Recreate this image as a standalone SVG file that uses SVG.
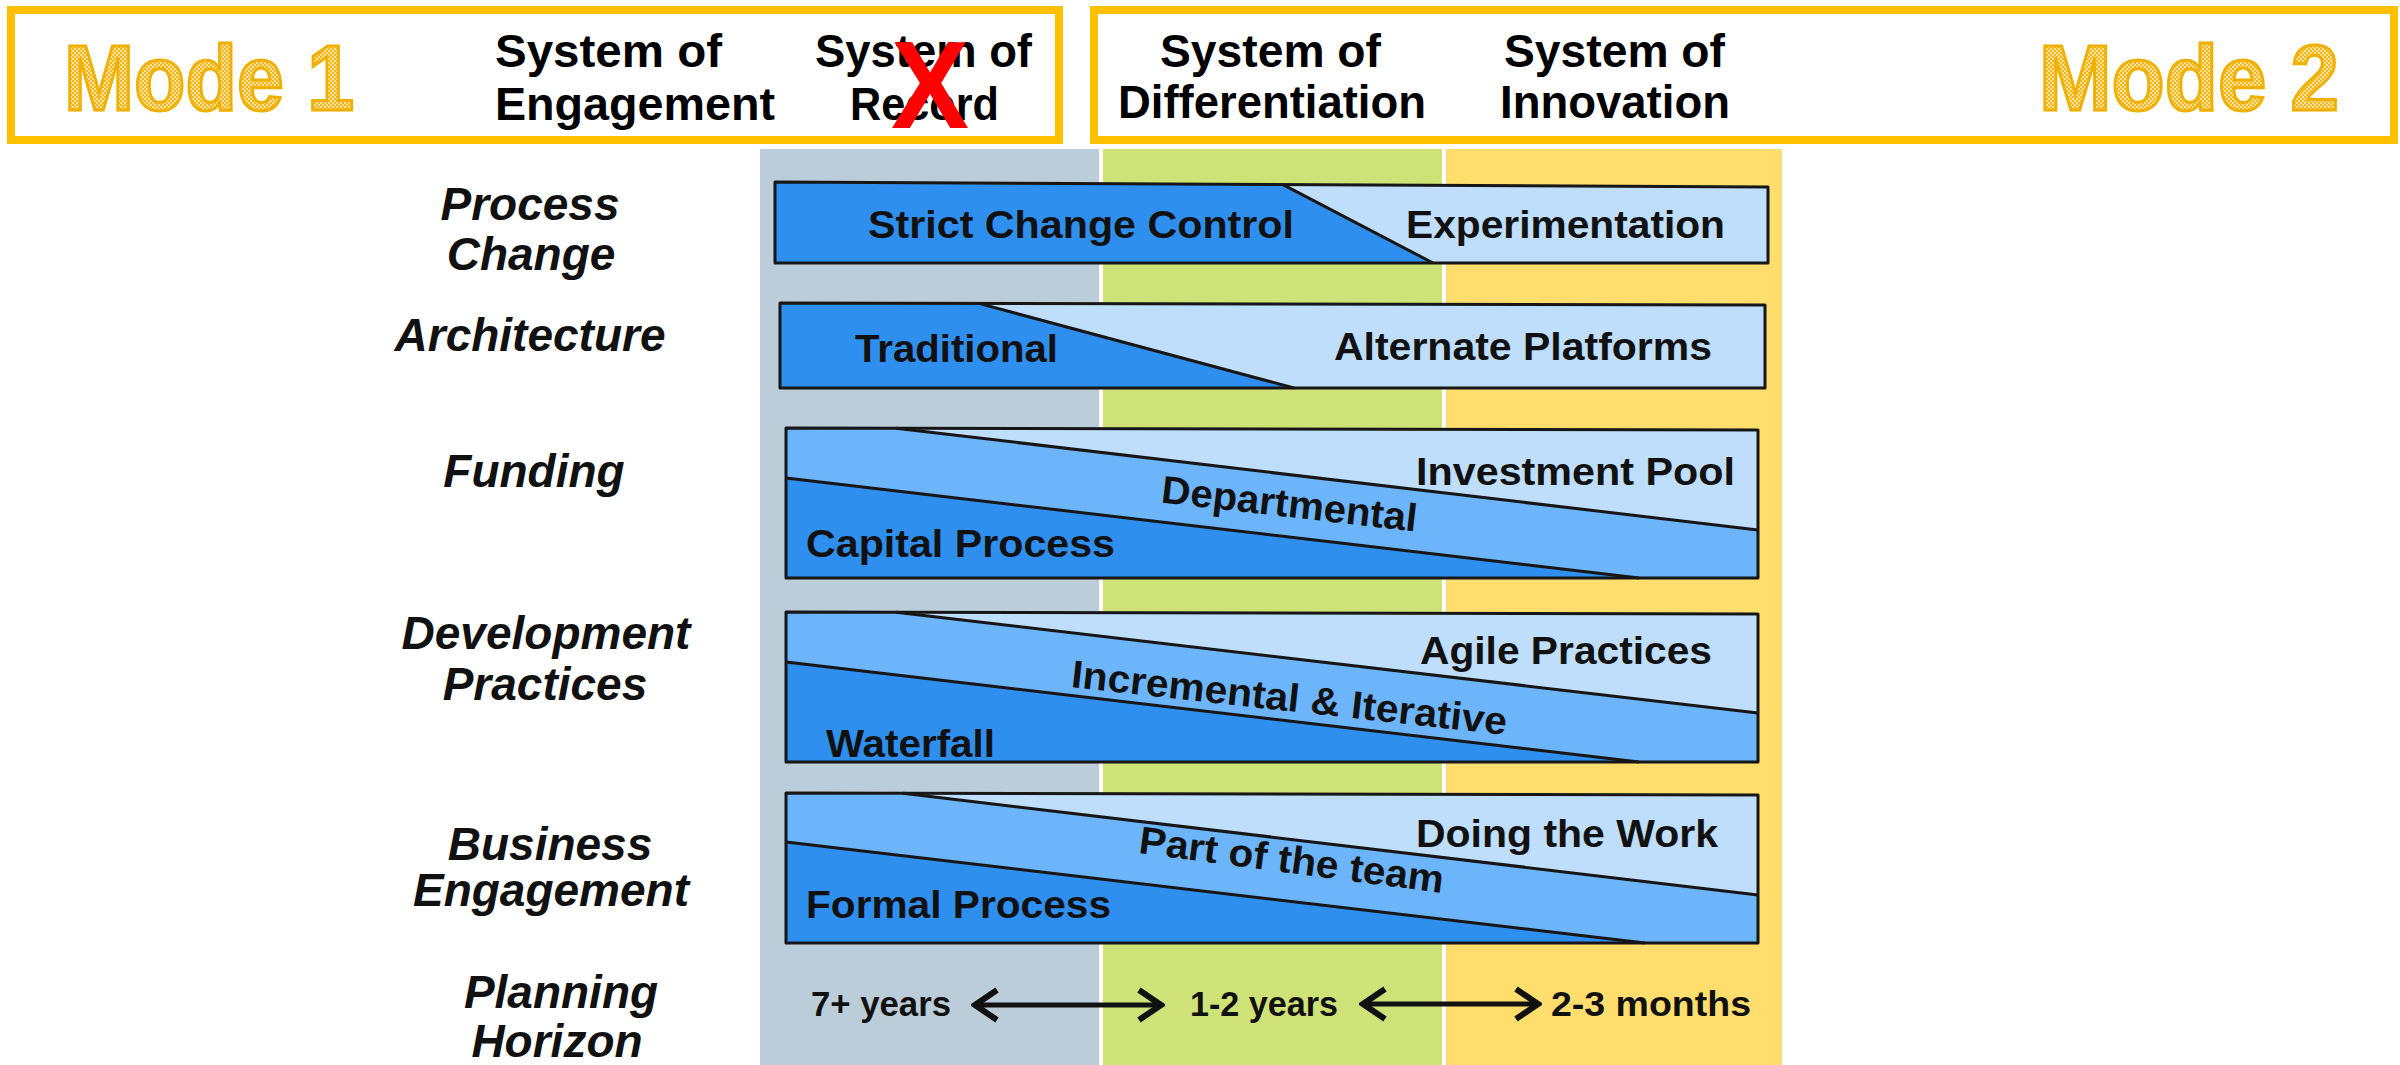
<svg xmlns="http://www.w3.org/2000/svg" width="2400" height="1065" viewBox="0 0 2400 1065">
<defs>
  <pattern id="dots" x="0" y="0" width="4" height="4" patternUnits="userSpaceOnUse">
    <rect width="4" height="4" fill="#FBE09A"/>
    <rect width="2" height="2" fill="#F2B81E"/>
    <rect x="2" y="2" width="2" height="2" fill="#F2B81E"/>
  </pattern>
  <marker id="chev" viewBox="0 0 30 36" refX="27" refY="18" markerWidth="30" markerHeight="36" markerUnits="userSpaceOnUse" orient="auto-start-reverse">
    <path d="M4,3 L26,18 L4,33" fill="none" stroke="#111" stroke-width="6" stroke-linejoin="miter"/>
  </marker>
</defs>
<style>
  .hdr { fill:none; stroke:#FFC000; stroke-width:8; }
  .mode { font-family:"Liberation Sans", Arial, sans-serif; font-weight:bold; font-size:92px; fill:url(#dots); stroke:#F0B000; stroke-width:3; }
  .sys { font-family:"Liberation Sans", Arial, sans-serif; font-weight:bold; font-size:47px; fill:#000; }
  .lab { font-family:"Liberation Sans", Arial, sans-serif; font-weight:bold; font-style:italic; font-size:46px; fill:#111; text-anchor:middle; }
  .bt { font-family:"Liberation Sans", Arial, sans-serif; font-weight:bold; font-size:39px; fill:#111; }
  .ph { font-family:"Liberation Sans", Arial, sans-serif; font-weight:bold; font-size:35px; fill:#111; }
  .dark { fill:#2F8FEF; }
  .med { fill:#6DB5FA; }
  .light { fill:#BEDEFC; }
  .edge { fill:none; stroke:#161616; stroke-width:3; stroke-linejoin:round; }
  .arrow { fill:none; stroke:#111; stroke-width:5; }
</style>
<rect width="2400" height="1065" fill="#FFFFFF"/>

<g id="columns">
  <rect x="760" y="149" width="339" height="916" fill="#BBCDD9"/>
  <rect x="1103" y="149" width="339" height="916" fill="#CFE278"/>
  <rect x="1446" y="149" width="336" height="916" fill="#FFDE6E"/>
</g>

<g id="header-mode1">
  <rect class="hdr" x="11" y="10" width="1048" height="130"/>
  <text class="mode" x="64" y="110" textLength="290" lengthAdjust="spacingAndGlyphs">Mode 1</text>
  <text class="sys" x="495" y="67" textLength="227" lengthAdjust="spacingAndGlyphs">System of</text>
  <text class="sys" x="495" y="120" textLength="280" lengthAdjust="spacingAndGlyphs">Engagement</text>
  <text class="sys" x="815" y="67" textLength="217" lengthAdjust="spacingAndGlyphs" fill="#1a1a1a">System of</text>
  <text class="sys" x="850" y="120" textLength="149" lengthAdjust="spacingAndGlyphs" fill="#1a1a1a">Record</text>
  <text x="891" y="128" font-family="Liberation Sans, Arial, sans-serif" font-weight="bold" font-size="124" fill="#FF0000" textLength="78" lengthAdjust="spacingAndGlyphs">X</text>
</g>

<g id="header-mode2">
  <rect class="hdr" x="1094" y="10" width="1300" height="130"/>
  <text class="sys" x="1160" y="67" textLength="221" lengthAdjust="spacingAndGlyphs">System of</text>
  <text class="sys" x="1118" y="118" textLength="308" lengthAdjust="spacingAndGlyphs">Differentiation</text>
  <text class="sys" x="1504" y="67" textLength="221" lengthAdjust="spacingAndGlyphs">System of</text>
  <text class="sys" x="1500" y="118" textLength="230" lengthAdjust="spacingAndGlyphs">Innovation</text>
  <text class="mode" x="2039" y="110" textLength="300" lengthAdjust="spacingAndGlyphs">Mode 2</text>
</g>

<g id="labels">
  <text class="lab" x="530" y="220">Process</text>
  <text class="lab" x="531" y="270">Change</text>
  <text class="lab" x="530" y="351">Architecture</text>
  <text class="lab" x="534" y="487">Funding</text>
  <text class="lab" x="546" y="649">Development</text>
  <text class="lab" x="545" y="700">Practices</text>
  <text class="lab" x="550" y="860">Business</text>
  <text class="lab" x="551" y="906">Engagement</text>
  <text class="lab" x="561" y="1008">Planning</text>
  <text class="lab" x="557" y="1057">Horizon</text>
</g>

<g id="row-process-change">
  <polygon class="light" points="1283,184.6 1768,187 1768,263 1433,263"/>
  <polygon class="dark" points="775,182 1283,184.6 1433,263 775,263"/>
  <polygon class="edge" points="775,182 1768,187 1768,263 775,263"/>
  <line class="edge" x1="1283" y1="184.6" x2="1433" y2="263"/>
  <text class="bt" x="868" y="238" textLength="426" lengthAdjust="spacingAndGlyphs">Strict Change Control</text>
  <text class="bt" x="1406" y="238" textLength="319" lengthAdjust="spacingAndGlyphs">Experimentation</text>
</g>

<g id="row-architecture">
  <polygon class="light" points="979,303.4 1765,305 1765,388 1294,388"/>
  <polygon class="dark" points="780,303 979,303.4 1294,388 780,388"/>
  <polygon class="edge" points="780,303 1765,305 1765,388 780,388"/>
  <line class="edge" x1="979" y1="303.4" x2="1294" y2="388"/>
  <text class="bt" x="855" y="362" textLength="203" lengthAdjust="spacingAndGlyphs">Traditional</text>
  <text class="bt" x="1334" y="360" textLength="378" lengthAdjust="spacingAndGlyphs">Alternate Platforms</text>
</g>

<g id="row-funding">
  <polygon class="med" points="786,428 1758,430 1758,578 786,578"/>
  <polygon class="light" points="896,428.2 1758,430 1758,530"/>
  <polygon class="dark" points="786,478 1639,578 786,578"/>
  <polygon class="edge" points="786,428 1758,430 1758,578 786,578"/>
  <line class="edge" x1="896" y1="428.2" x2="1758" y2="530"/>
  <line class="edge" x1="786" y1="478" x2="1639" y2="578"/>
  <text class="bt" x="1416" y="485" textLength="319" lengthAdjust="spacingAndGlyphs">Investment Pool</text>
  <text class="bt" x="1288" y="517" text-anchor="middle" transform="rotate(6.5 1288 517)" textLength="257" lengthAdjust="spacingAndGlyphs">Departmental</text>
  <text class="bt" x="806" y="557" textLength="309" lengthAdjust="spacingAndGlyphs">Capital Process</text>
</g>

<g id="row-development">
  <polygon class="med" points="786,612 1758,614 1758,762 786,762"/>
  <polygon class="light" points="896,612.2 1758,614 1758,713"/>
  <polygon class="dark" points="786,662 1639,762 786,762"/>
  <polygon class="edge" points="786,612 1758,614 1758,762 786,762"/>
  <line class="edge" x1="896" y1="612.2" x2="1758" y2="713"/>
  <line class="edge" x1="786" y1="662" x2="1639" y2="762"/>
  <text class="bt" x="1420" y="664" textLength="292" lengthAdjust="spacingAndGlyphs">Agile Practices</text>
  <text class="bt" x="1288" y="711" text-anchor="middle" transform="rotate(6.3 1288 711)" textLength="438" lengthAdjust="spacingAndGlyphs">Incremental &amp; Iterative</text>
  <text class="bt" x="826" y="757" textLength="169" lengthAdjust="spacingAndGlyphs">Waterfall</text>
</g>

<g id="row-business-engagement">
  <polygon class="med" points="786,793 1758,795 1758,943 786,943"/>
  <polygon class="light" points="903,793.2 1758,795 1758,895"/>
  <polygon class="dark" points="786,842 1645,943 786,943"/>
  <polygon class="edge" points="786,793 1758,795 1758,943 786,943"/>
  <line class="edge" x1="903" y1="793.2" x2="1758" y2="895"/>
  <line class="edge" x1="786" y1="842" x2="1645" y2="943"/>
  <text class="bt" x="1416" y="847" textLength="302" lengthAdjust="spacingAndGlyphs">Doing the Work</text>
  <text class="bt" x="1290" y="873" text-anchor="middle" transform="rotate(7.5 1290 873)" textLength="307" lengthAdjust="spacingAndGlyphs">Part of the team</text>
  <text class="bt" x="806" y="918" textLength="305" lengthAdjust="spacingAndGlyphs">Formal Process</text>
</g>

<g id="row-planning-horizon">
  <text class="ph" x="811" y="1016" textLength="140" lengthAdjust="spacingAndGlyphs">7+ years</text>
  <text class="ph" x="1190" y="1016" textLength="148" lengthAdjust="spacingAndGlyphs">1-2 years</text>
  <text class="ph" x="1551" y="1016" textLength="200" lengthAdjust="spacingAndGlyphs">2-3 months</text>
</g>

<g id="connectors">
  <line class="arrow" x1="974" y1="1005" x2="1162" y2="1005" marker-start="url(#chev)" marker-end="url(#chev)"/>
  <line class="arrow" x1="1362" y1="1004" x2="1539" y2="1004" marker-start="url(#chev)" marker-end="url(#chev)"/>
</g>
</svg>
